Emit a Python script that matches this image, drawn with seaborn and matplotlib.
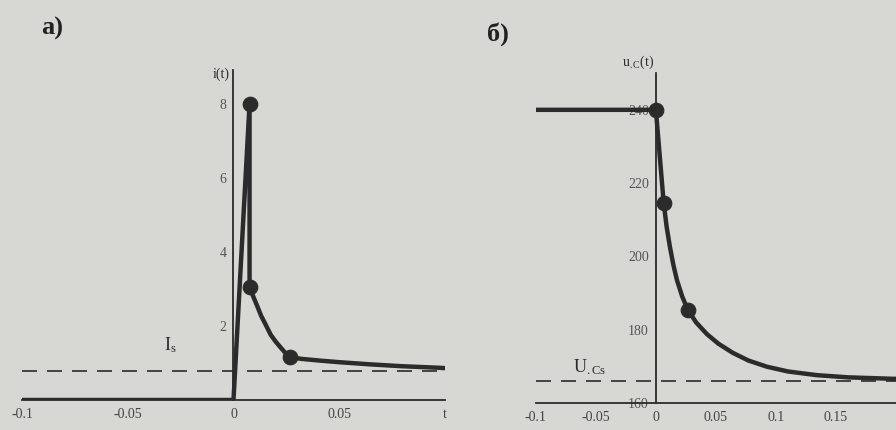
import numpy as np
import pandas as pd
import matplotlib.pyplot as plt
import seaborn as sns

# values
t_i = [-0.1, 0.0, 0.0076, 0.0076, 0.0095, 0.0114, 0.013, 0.0148, 0.0176, 0.02,
       0.0224, 0.0245, 0.0267, 0.032, 0.0414, 0.05, 0.065, 0.08, 0.097, 0.1]
i_vals = [0.0, 0.0, 8.0, 3.05, 2.77, 2.51, 2.28, 2.08, 1.76, 1.57,
          1.41, 1.27, 1.16, 1.11, 1.06, 1.02, 0.96, 0.91, 0.87, 0.86]
t_i_pts = [0.0076, 0.0076, 0.0267]
i_pts = [8.0, 3.05, 1.16]
I_s = 0.78

t_u = [-0.1, 0.0, 0.0065, 0.009, 0.0117, 0.0145, 0.0175, 0.022, 0.0267, 0.0335,
       0.0425, 0.052, 0.064, 0.077, 0.0925, 0.11, 0.134, 0.16, 0.1975, 0.2]
u_vals = [240, 240, 214.6, 208.0, 202.6, 197.8, 193.6, 189.0, 185.4, 182.0,
          178.8, 176.2, 173.7, 171.6, 169.9, 168.6, 167.6, 167.0, 166.6, 166.6]
t_u_pts = [0.0, 0.0065, 0.0267]
u_pts = [240, 214.6, 185.4]
U_Cs = 166.0

x_ticks_a = [-0.1, -0.05, 0, 0.05, 0.1]
x_labels_a = ['-0.1', '-0.05', '0', '0.05', 't']
y_ticks_a = [2, 4, 6, 8]
x_ticks_b = [-0.1, -0.05, 0, 0.05, 0.1, 0.15]
x_labels_b = ['-0.1', '-0.05', '0', '0.05', '0.1', '0.15']
y_ticks_b = [160, 180, 200, 220, 240]

bg = '#d7d7d4'
ink = '#2b2b2b'

sns.set_theme(style='white')
plt.rcParams['font.family'] = ['Liberation Serif', 'DejaVu Serif']
plt.rcParams['mathtext.fontset'] = 'custom'
plt.rcParams['mathtext.rm'] = 'Liberation Serif'
plt.rcParams['mathtext.it'] = 'Liberation Serif'

fig = plt.figure(figsize=(8.96, 4.30), dpi=100, facecolor=bg)
ax1 = fig.add_axes([0.0246, 0.0698, 0.472, 0.767])
ax2 = fig.add_axes([0.598, 0.0628, 0.402, 0.767])


def style_axes(ax, y0):
    ax.set_facecolor(bg)
    for s in ['top', 'right']:
        ax.spines[s].set_visible(False)
    ax.spines['left'].set_position(('data', 0))
    ax.spines['bottom'].set_position(('data', y0))
    for s in ['left', 'bottom']:
        ax.spines[s].set_color(ink)
        ax.spines[s].set_linewidth(1.3)
    ax.tick_params(axis='x', direction='inout', length=9, width=1.3, colors=ink,
                   labelsize=10, pad=1, labelcolor='#444444')
    ax.tick_params(axis='y', direction='out', length=5, width=1.3, colors=ink,
                   labelsize=10, pad=0, labelcolor='#555555')
    ax.set_xlabel('')
    ax.set_ylabel('')


# а) current
df_i = pd.DataFrame({'t': t_i, 'i': i_vals})
sns.lineplot(data=df_i, x='t', y='i', ax=ax1, color=ink, lw=3.2,
             sort=False, estimator=None)
sns.scatterplot(x=t_i_pts, y=i_pts, ax=ax1, color=ink, s=110, zorder=5, edgecolor=ink)
ax1.axhline(I_s, color=ink, lw=1.2, ls=(0, (9, 6)))
ax1.set_xlim(-0.1, 0.1)
ax1.set_ylim(0, 8.9)
style_axes(ax1, 0)
ax1.set_xticks(x_ticks_a, x_labels_a)
ax1.set_yticks(y_ticks_a)
ax1.text(-0.03, 1.35, r'$\mathrm{I_s}$', fontsize=13, color=ink, ha='center')
ax1.text(-0.006, 8.7, 'i(t)', fontsize=10, color=ink, ha='center')

# б) capacitor voltage
df_u = pd.DataFrame({'t': t_u, 'u': u_vals})
sns.lineplot(data=df_u, x='t', y='u', ax=ax2, color=ink, lw=3.2,
             sort=False, estimator=None)
sns.scatterplot(x=t_u_pts, y=u_pts, ax=ax2, color=ink, s=110, zorder=5, edgecolor=ink)
ax2.axhline(U_Cs, color=ink, lw=1.2, ls=(0, (9, 6)))
ax2.set_xlim(-0.1, 0.2)
ax2.set_ylim(160, 250)
style_axes(ax2, 160)
ax2.set_xticks(x_ticks_b, x_labels_b)
ax2.set_yticks(y_ticks_b)
ax2.text(-0.055, 168.5, r'$\mathrm{U_{.Cs}}$', fontsize=13, color=ink, ha='center')
ax2.text(-0.015, 252, r'$\mathrm{u_{.C}(t)}$', fontsize=10, color=ink, ha='center')

fig.text(0.046, 0.92, 'а)', fontsize=19, color='#222222', fontweight='bold')
fig.text(0.544, 0.905, 'б)', fontsize=19, color='#222222', fontweight='bold')

fig.savefig('out.png', dpi=100, facecolor=bg)
